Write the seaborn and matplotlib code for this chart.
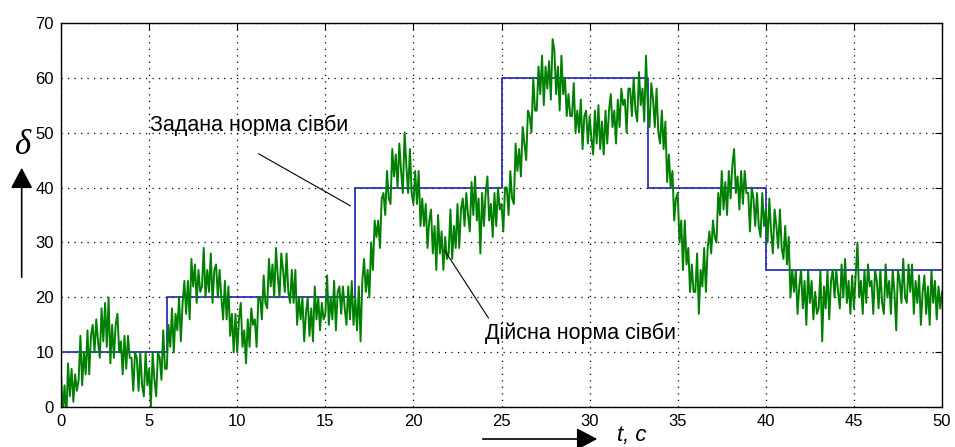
import numpy as np
import pandas as pd
import seaborn as sns
import matplotlib.pyplot as plt

# set point of the seeding rate (step changes)
set_t = [0, 6, 16.67, 25, 33.33, 40, 50]
set_v = [10, 20, 40, 60, 40, 25, 25]

# actual seeding rate, one value every 0.1 s (one row per second)
act_v = [
    6, -1, 4, -2, 8, 2, 7, 1, 6, 3,
    5, 13, 4, 10, 6, 14, 6, 13, 15, 10,
    16, 12, 9, 18, 12, 19, 11, 20, 8, 15,
    9, 15, 17, 10, 12, 6, 13, 7, 13, 9,
    9, 3, 10, 9, 3, 10, 4, 2, 10, 4,
    7, 0, 10, 5, 2, 10, 9, 5, 14, 7,
    7, 15, 11, 18, 10, 17, 14, 20, 12, 19,
    23, 17, 23, 16, 27, 22, 26, 19, 25, 21,
    22, 29, 20, 25, 21, 28, 19, 25, 26, 20,
    25, 20, 16, 23, 16, 22, 13, 17, 10, 17,
    10, 16, 19, 11, 14, 8, 16, 11, 18, 15,
    16, 11, 20, 20, 16, 24, 19, 18, 27, 22,
    26, 20, 29, 24, 20, 28, 25, 21, 28, 21,
    19, 25, 19, 25, 15, 20, 16, 20, 12, 17,
    20, 13, 18, 12, 22, 16, 20, 14, 19, 16,
    17, 24, 15, 20, 16, 23, 14, 21, 22, 17,
    22, 18, 15, 22, 16, 23, 15, 20, 14, 22,
    12, 23, 27, 21, 25, 20, 30, 25, 34, 31,
    34, 29, 38, 39, 35, 43, 38, 37, 47, 42,
    46, 40, 48, 43, 39, 50, 44, 39, 47, 39,
    37, 43, 37, 43, 33, 38, 33, 37, 29, 34,
    36, 28, 33, 25, 35, 28, 32, 25, 31, 27,
    28, 36, 27, 33, 29, 37, 29, 36, 38, 33,
    39, 35, 32, 41, 35, 42, 34, 38, 28, 39,
    33, 39, 42, 34, 37, 31, 39, 33, 40, 36,
    37, 32, 40, 40, 35, 43, 38, 37, 48, 43,
    47, 42, 51, 48, 45, 54, 53, 50, 60, 54,
    54, 62, 57, 64, 55, 62, 58, 63, 56, 67,
    65, 57, 62, 54, 64, 57, 60, 53, 57, 53,
    53, 59, 50, 54, 50, 56, 47, 53, 54, 48,
    53, 49, 46, 54, 48, 55, 47, 52, 46, 54,
    48, 54, 57, 51, 54, 48, 56, 51, 58, 55,
    56, 50, 58, 58, 53, 60, 54, 52, 61, 55,
    58, 52, 64, 55, 51, 59, 56, 51, 58, 50,
    48, 54, 47, 52, 41, 46, 40, 43, 34, 38,
    39, 30, 34, 25, 34, 26, 29, 21, 26, 21,
    21, 28, 17, 25, 22, 29, 21, 29, 32, 28,
    34, 31, 30, 39, 35, 43, 36, 41, 35, 43,
    38, 44, 47, 39, 42, 36, 43, 37, 43, 39,
    39, 32, 40, 38, 33, 39, 33, 31, 39, 33,
    36, 30, 38, 32, 28, 36, 33, 29, 36, 29,
    27, 33, 26, 31, 20, 25, 21, 25, 17, 22,
    25, 18, 23, 15, 25, 19, 23, 16, 21, 17,
    18, 25, 12, 22, 18, 25, 16, 23, 25, 20,
    25, 21, 18, 26, 20, 27, 19, 23, 17, 24,
    18, 24, 30, 20, 23, 17, 25, 19, 26, 22,
    23, 17, 25, 23, 18, 25, 19, 17, 26, 20,
    23, 17, 25, 21, 14, 25, 23, 19, 27, 20,
    19, 26, 21, 26, 17, 23, 19, 24, 15, 21,
    24, 17, 22, 15, 25, 19, 23, 16, 22, 18,
    21,
]
act_t = np.linspace(0, 50, len(act_v))

x_ticks = [0, 5, 10, 15, 20, 25, 30, 35, 40, 45, 50]
y_ticks = [0, 10, 20, 30, 40, 50, 60, 70]

sns.set_style("white")
plt.rcParams['font.family'] = ['Liberation Sans', 'DejaVu Sans']
plt.rcParams['text.color'] = 'black'

fig = plt.figure(figsize=(9.55, 4.47), dpi=100)
ax = fig.add_axes([0.0639, 0.0888, 0.9225, 0.8605])

sns.lineplot(x=set_t, y=set_v, ax=ax, color='#2020b0', lw=1.2,
             drawstyle='steps-post', estimator=None, errorbar=None)
sns.lineplot(x=act_t, y=act_v, ax=ax, color='#008000', lw=1.4,
             estimator=None, errorbar=None)

ax.set_xlim(0, 50)
ax.set_ylim(0, 70)
ax.set_xticks(x_ticks)
ax.set_yticks(y_ticks)
ax.set_xlabel('')
ax.set_ylabel('')
ax.grid(True, color='black', linestyle=(0, (1, 4.2)), linewidth=0.9)
ax.set_axisbelow(True)
ax.tick_params(direction='in', top=True, right=True, length=5, width=0.8,
               labelsize=12, colors='black', pad=5)
for s in ax.spines.values():
    s.set_visible(True)
    s.set_color('black')
    s.set_linewidth(1.0)

# callouts
ax.text(5.05, 51.4, 'Задана норма сівби', fontsize=15.5, va='center', ha='left',
        color='black')
ax.annotate('', xy=(16.57, 36.4), xytext=(11.07, 46.4),
            arrowprops=dict(arrowstyle='-', lw=0.8, color='black'))
ax.text(24.06, 13.5, 'Дійсна норма сівби', fontsize=15.5, va='center', ha='left',
        color='black')
ax.annotate('', xy=(24.35, 15.8), xytext=(21.7, 28.9),
            arrowprops=dict(arrowstyle='-', lw=0.8, color='black'))

# axis arrows and symbols
arrow = dict(arrowstyle='-|>,head_length=0.85,head_width=0.45', lw=1.2,
             color='black', mutation_scale=15)
ax.annotate('', xy=(0.0227, 0.6309), xytext=(0.0227, 0.3736),
            xycoords='figure fraction', textcoords='figure fraction', arrowprops=arrow)
ax.annotate('', xy=(0.6283, 1 - 439 / 447), xytext=(0.5026, 1 - 439 / 447),
            xycoords='figure fraction', textcoords='figure fraction', arrowprops=arrow)
fig.text(0.024, 1 - 145 / 447, 'δ', fontsize=25, style='italic', ha='center', va='center',
         family=['Liberation Serif', 'DejaVu Serif'], color='black')
fig.text(617 / 955, 1 - 436 / 447, 't, c', fontsize=16, style='italic', ha='left',
         va='center', color='black')

fig.savefig('out.png', dpi=100)
